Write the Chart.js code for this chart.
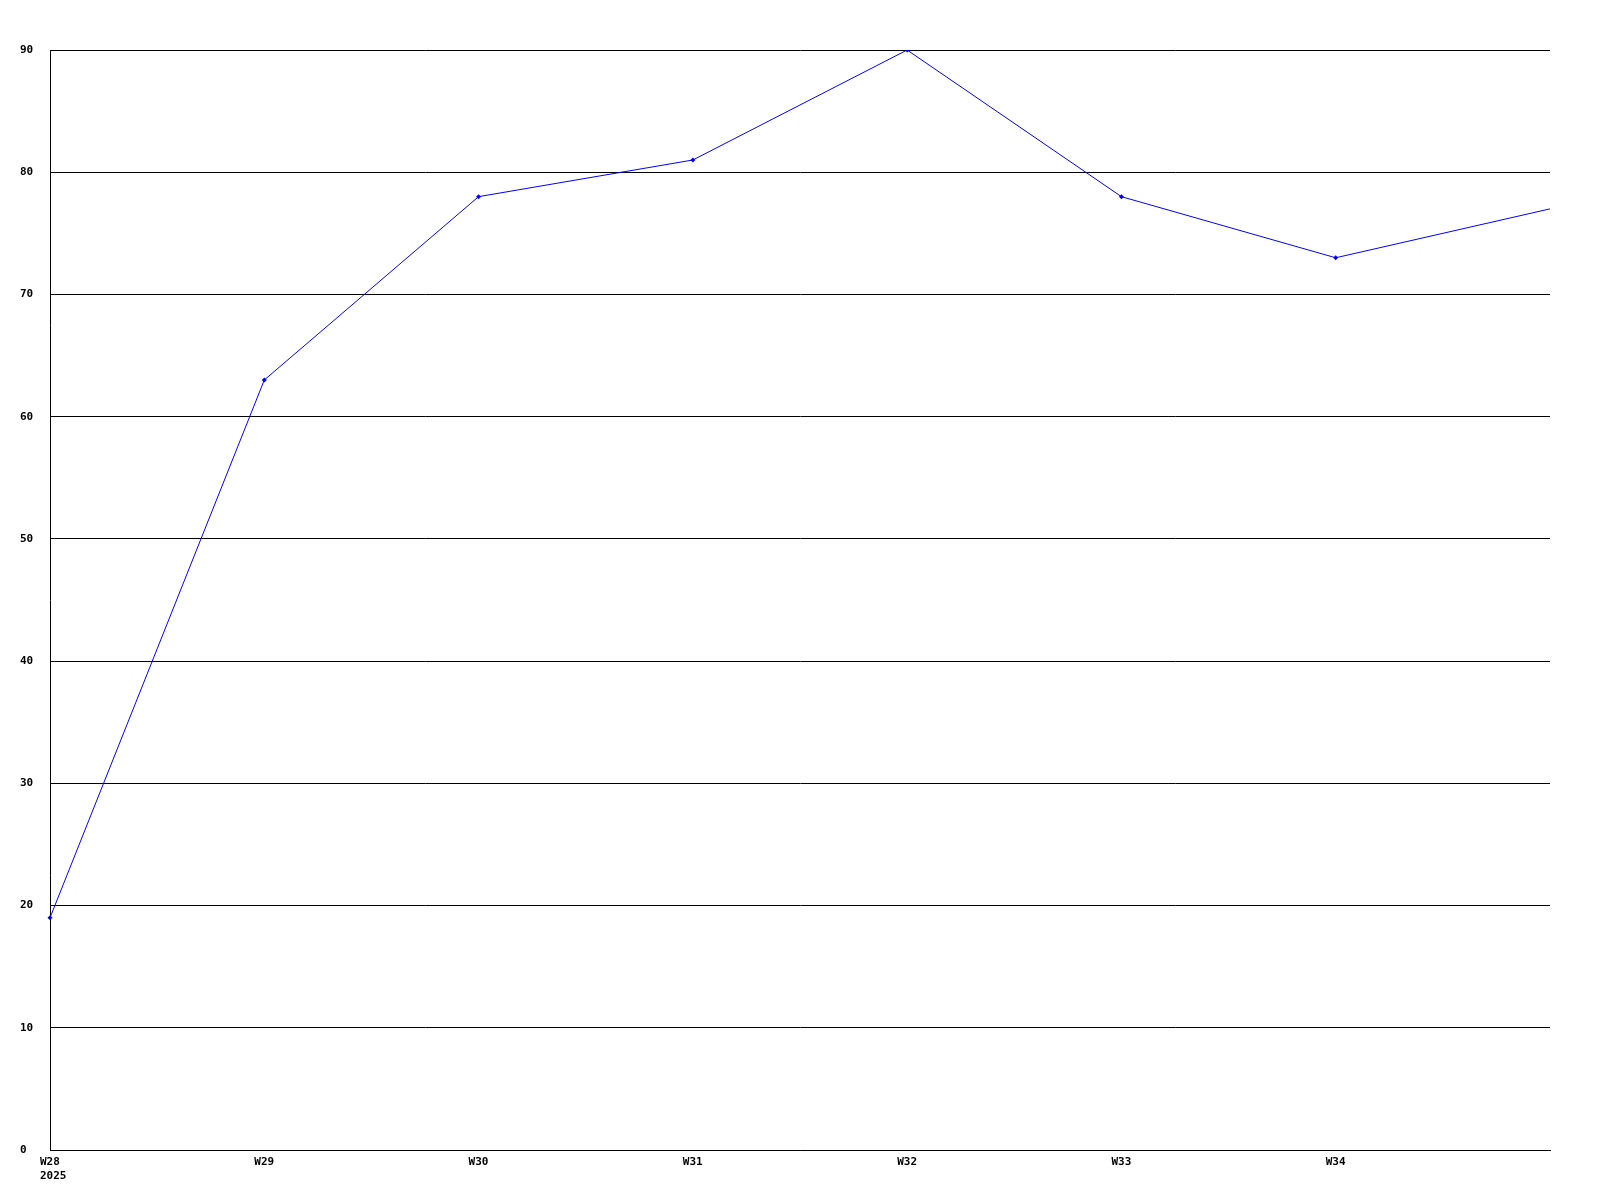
<!DOCTYPE html>
<html>
<head>
<meta charset="utf-8">
<script src="https://cdn.jsdelivr.net/npm/chart.js@4"></script>
<style>
  html, body { margin: 0; padding: 0; background: #fff; }
  #wrap { width: 1600px; height: 1200px; }
</style>
</head>
<body>
<div id="wrap"><canvas id="chart" width="1600" height="1200"></canvas></div>
<script>
const weeks = ['W28', 'W29', 'W30', 'W31', 'W32', 'W33', 'W34', 'W35']
const years = ['2025', '', '', '', '', '', '', '']
const values = [19, 63, 78, 81, 90, 78, 73, 77]
const yTicks = [0, 10, 20, 30, 40, 50, 60, 70, 80, 90]

const FONT = 'bold 11px "DejaVu Sans Mono", monospace'

// draws the tick texts ourselves so they sit where the reference puts them
const labelPlugin = {
  id: 'labels',
  afterDraw(chart) {
    const ctx = chart.ctx
    const x = chart.scales.x
    const y = chart.scales.y
    ctx.save()
    ctx.font = FONT
    ctx.fillStyle = '#000'
    ctx.textAlign = 'left'

    ctx.textBaseline = 'middle'
    yTicks.forEach(v => {
      ctx.fillText(String(v), 20, y.getPixelForValue(v))
    })

    ctx.textBaseline = 'top'
    // last week is the right edge of the plot, its label is not shown
    weeks.slice(0, weeks.length - 1).forEach((w, i) => {
      const px = x.getPixelForValue(i) - 10
      ctx.fillText(w, px, chart.chartArea.bottom + 7)
      if (years[i]) ctx.fillText(years[i], px, chart.chartArea.bottom + 21)
    })
    ctx.restore()
  }
}

new Chart(document.getElementById('chart'), {
  type: 'line',
  data: {
    labels: weeks,
    datasets: [{
      data: values,
      borderColor: '#0000ff',
      backgroundColor: '#0000ff',
      borderWidth: 1,
      pointStyle: 'rectRot',
      pointRadius: ctx => ctx.dataIndex === values.length - 1 ? 0 : 2.5,
      pointBorderWidth: 0,
      tension: 0,
      fill: false
    }]
  },
  options: {
    responsive: false,
    animation: false,
    devicePixelRatio: 1,
    layout: { padding: { left: 50, top: 50, right: 50, bottom: 50 } },
    plugins: {
      legend: { display: false },
      tooltip: { enabled: false }
    },
    scales: {
      x: {
        type: 'category',
        offset: false,
        grid: { display: false, drawTicks: false },
        border: { display: true, color: '#000', width: 1 },
        ticks: { display: false }
      },
      y: {
        min: 0,
        max: 90,
        ticks: { display: false, stepSize: 10 },
        grid: { color: '#000', lineWidth: 1, drawTicks: false },
        border: { display: true, color: '#000', width: 1 }
      }
    }
  },
  plugins: [labelPlugin]
})
</script>
</body>
</html>
